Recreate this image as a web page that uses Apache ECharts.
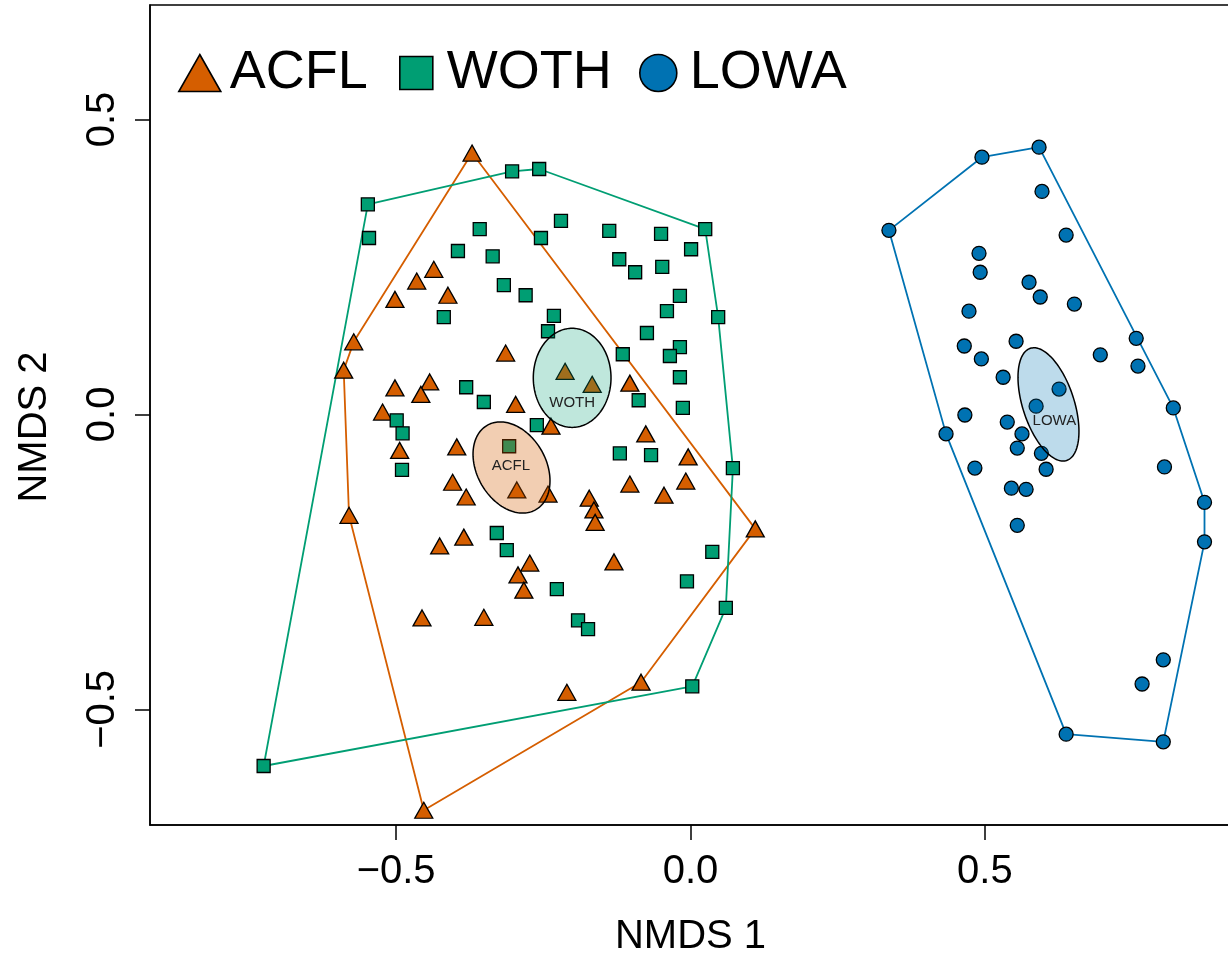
<!DOCTYPE html>
<html>
<head>
<meta charset="utf-8">
<title>NMDS ordination</title>
<script src="https://cdn.jsdelivr.net/npm/echarts@6.0.0/dist/echarts.min.js"></script>
<style>
  html, body { margin: 0; padding: 0; background: #fff; }
  #chart { width: 1228px; height: 955px; }
</style>
</head>
<body>
<div id="chart"></div>
<script>
// Species groups and their colours
const groups = ['ACFL', 'WOTH', 'LOWA'];
const groupColors = ['#D55E00', '#009E73', '#0072B2'];
const ellipseFills = ['rgba(213,94,0,0.30)', 'rgba(0,158,115,0.25)', 'rgba(0,114,178,0.26)'];

// Site scores [NMDS1, NMDS2]
const acflPoints = [
  [-0.371, 0.443], [-0.436, 0.246], [-0.465, 0.226], [-0.412, 0.202], [-0.502, 0.195],
  [-0.572, 0.123], [-0.589, 0.075], [-0.314, 0.104], [-0.502, 0.045], [-0.443, 0.055],
  [-0.458, 0.034], [-0.523, 0.004], [-0.494, -0.061], [-0.297, 0.017], [-0.213, 0.073],
  [-0.167, 0.051], [-0.103, 0.053], [-0.397, -0.055], [-0.237, -0.020], [-0.076, -0.033],
  [-0.404, -0.115], [-0.381, -0.140], [-0.295, -0.128], [-0.242, -0.135], [-0.172, -0.142],
  [-0.164, -0.162], [-0.162, -0.183], [-0.103, -0.118], [-0.045, -0.137], [-0.004, -0.072],
  [-0.008, -0.113], [-0.580, -0.171], [0.110, -0.194], [-0.426, -0.223], [-0.385, -0.208],
  [-0.273, -0.252], [-0.293, -0.272], [-0.283, -0.298], [-0.130, -0.250], [-0.456, -0.345],
  [-0.351, -0.344], [-0.210, -0.471], [-0.084, -0.454], [-0.453, -0.671]
];
const wothPoints = [
  [-0.725, -0.596], [-0.548, 0.356], [-0.546, 0.299], [-0.303, 0.412], [-0.257, 0.416],
  [0.025, 0.314], [-0.358, 0.314], [-0.254, 0.299], [-0.220, 0.328], [-0.395, 0.277],
  [-0.336, 0.268], [-0.317, 0.219], [-0.280, 0.202], [-0.138, 0.311], [-0.050, 0.306],
  [0.001, 0.280], [-0.121, 0.263], [-0.094, 0.241], [-0.048, 0.250], [-0.018, 0.201],
  [-0.040, 0.175], [0.047, 0.165], [-0.074, 0.138], [-0.018, 0.114], [-0.035, 0.099],
  [-0.115, 0.102], [-0.018, 0.063], [-0.088, 0.024], [-0.013, 0.011], [-0.120, -0.066],
  [-0.067, -0.069], [0.072, -0.091], [-0.419, 0.165], [-0.232, 0.167], [-0.242, 0.141],
  [-0.381, 0.046], [-0.351, 0.021], [-0.499, -0.010], [-0.489, -0.032], [-0.490, -0.094],
  [-0.308, -0.054], [-0.261, -0.018], [-0.329, -0.201], [-0.312, -0.230], [-0.227, -0.296],
  [-0.191, -0.349], [-0.174, -0.364], [0.037, -0.233], [-0.006, -0.283], [0.060, -0.328],
  [0.003, -0.461]
];
const lowaPoints = [
  [0.337, 0.312], [0.495, 0.436], [0.592, 0.453], [0.597, 0.378], [0.638, 0.304],
  [0.490, 0.273], [0.492, 0.241], [0.575, 0.224], [0.594, 0.199], [0.652, 0.187],
  [0.473, 0.175], [0.757, 0.129], [0.465, 0.116], [0.553, 0.124], [0.494, 0.094],
  [0.696, 0.101], [0.760, 0.082], [0.531, 0.063], [0.626, 0.043], [0.587, 0.014],
  [0.820, 0.011], [0.466, -0.001], [0.538, -0.013], [0.434, -0.033], [0.563, -0.033],
  [0.555, -0.057], [0.596, -0.066], [0.483, -0.091], [0.604, -0.093], [0.805, -0.089],
  [0.545, -0.125], [0.570, -0.127], [0.873, -0.149], [0.873, -0.216], [0.555, -0.188],
  [0.803, -0.416], [0.767, -0.457], [0.638, -0.542], [0.803, -0.555]
];

// Standard-error ellipses: centre, semi-axes, rotation (degrees), label position
const ellipseCx = [-0.304, -0.201, 0.608];
const ellipseCy = [-0.090, 0.062, 0.017];
const ellipseA = [0.0826, 0.084, 0.0999];
const ellipseB = [0.0585, 0.066, 0.0437];
const ellipseAngle = [-60, 90, -72];
const labelX = [-0.305, -0.201, 0.618];
const labelY = [-0.088, 0.019, -0.011];

// Axis ticks
const tickValues = [-0.5, 0, 0.5];

const pointSets = [acflPoints, wothPoints, lowaPoints];
const symbols = ['triangle', 'rect', 'circle'];
const symbolSizes = [[18, 16], 13, 14];

const FONT = '"Liberation Sans", Arial, Helvetica, sans-serif';

function convexHull(pts) {
  const p = pts.slice().sort((a, b) => a[0] - b[0] || a[1] - b[1]);
  const cross = (o, a, b) => (a[0] - o[0]) * (b[1] - o[1]) - (a[1] - o[1]) * (b[0] - o[0]);
  const lower = [];
  for (const q of p) {
    while (lower.length >= 2 && cross(lower[lower.length - 2], lower[lower.length - 1], q) <= 0) lower.pop();
    lower.push(q);
  }
  const upper = [];
  for (let i = p.length - 1; i >= 0; i--) {
    const q = p[i];
    while (upper.length >= 2 && cross(upper[upper.length - 2], upper[upper.length - 1], q) <= 0) upper.pop();
    upper.push(q);
  }
  upper.pop();
  lower.pop();
  const h = lower.concat(upper);
  h.push(h[0]);
  return h;
}

const fmt = v => (v < 0 ? '\u2212' : '') + Math.abs(v).toFixed(1);

const hullSeries = groups.map((g, i) => ({
  name: g + ' hull',
  type: 'line',
  data: convexHull(pointSets[i]),
  showSymbol: false,
  symbol: 'none',
  silent: true,
  lineStyle: { color: groupColors[i], width: 1.8 },
  z: 2
}));

const pointSeries = groups.map((g, i) => ({
  name: g,
  type: 'scatter',
  data: pointSets[i],
  symbol: symbols[i],
  symbolSize: symbolSizes[i],
  itemStyle: { color: groupColors[i], borderColor: '#000', borderWidth: 1.3, opacity: 1 },
  z: 3
}));

const ellipseSeries = {
  name: 'ellipses',
  type: 'custom',
  coordinateSystem: 'cartesian2d',
  silent: true,
  z: 4,
  data: groups.map((g, i) => [ellipseCx[i], ellipseCy[i], ellipseA[i], ellipseB[i], ellipseAngle[i], labelX[i], labelY[i]]),
  renderItem(params, api) {
    const i = params.dataIndex;
    const cx = api.value(0), cy = api.value(1), a = api.value(2), b = api.value(3);
    const th = api.value(4) * Math.PI / 180;
    const pts = [];
    for (let k = 0; k < 160; k++) {
      const t = 2 * Math.PI * k / 160;
      const x = cx + a * Math.cos(t) * Math.cos(th) - b * Math.sin(t) * Math.sin(th);
      const y = cy + a * Math.cos(t) * Math.sin(th) + b * Math.sin(t) * Math.cos(th);
      pts.push(api.coord([x, y]));
    }
    const lab = api.coord([api.value(5), api.value(6)]);
    return {
      type: 'group',
      children: [
        { type: 'polygon', shape: { points: pts }, style: { fill: ellipseFills[i], stroke: '#000', lineWidth: 1.5 } },
        { type: 'text', x: lab[0], y: lab[1], style: { text: groups[i], fill: '#222', fontSize: 15, fontFamily: FONT, align: 'center', verticalAlign: 'middle' } }
      ]
    };
  }
};

// Legend: one block per group so each icon keeps its own proportions
const legendIcons = ['path://M21,0L42,37L0,37Z', 'path://M0,0H1V1H0Z', 'circle'];
const legendLeft = [178, 399, 639];
const legendW = [50, 51, 53];
const legendH = [37, 33, 37];

const legends = groups.map((g, i) => ({
  show: true,
  left: legendLeft[i],
  top: 46,
  padding: 0,
  itemWidth: legendW[i],
  itemHeight: legendH[i],
  symbolKeepAspect: true,
  selectedMode: false,
  textStyle: { fontSize: 54, color: '#000', fontFamily: FONT },
  data: [{ name: g, icon: legendIcons[i], itemStyle: { color: groupColors[i], borderColor: '#000', borderWidth: 1.6 } }]
}));

const axisCommon = {
  type: 'value',
  splitLine: { show: false },
  axisLine: { show: true, onZero: false, lineStyle: { color: '#000', width: 1.5 } },
  axisTick: { show: true, inside: false, length: 15, customValues: tickValues, lineStyle: { color: '#000', width: 1.5 } },
  nameLocation: 'middle'
};

const option = {
  animation: false,
  backgroundColor: '#fff',
  legend: legends,
  grid: {
    left: 150, top: 5, width: 1081, height: 820,
    show: true, borderColor: '#000', borderWidth: 1.5,
    containLabel: false, outerBoundsMode: 'none'
  },
  xAxis: Object.assign({}, axisCommon, {
    min: -0.918, max: 0.918,
    name: 'NMDS 1', nameGap: 92,
    nameTextStyle: { fontSize: 40, color: '#000', fontFamily: FONT },
    axisLabel: { customValues: tickValues, formatter: fmt, fontSize: 40, color: '#000', fontFamily: FONT, margin: 27 }
  }),
  yAxis: Object.assign({}, axisCommon, {
    min: -0.696, max: 0.694,
    name: 'NMDS 2', nameGap: 95,
    nameTextStyle: { fontSize: 40, color: '#000', fontFamily: FONT, padding: [0, 24, 0, 0] },
    axisLabel: { customValues: tickValues, formatter: fmt, rotate: 90, fontSize: 40, color: '#000', fontFamily: FONT, margin: 27 }
  }),
  series: hullSeries.concat(pointSeries, [ellipseSeries])
};

const chart = echarts.init(document.getElementById('chart'), null, { renderer: 'canvas' });
chart.setOption(option);
</script>
</body>
</html>
